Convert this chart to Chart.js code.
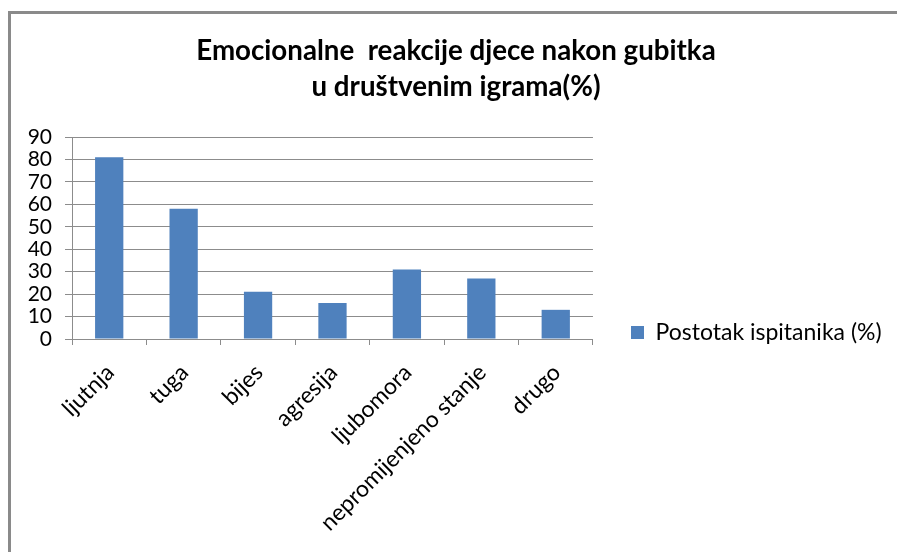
<!DOCTYPE html>
<html>
<head>
<meta charset="utf-8">
<script src="https://cdn.jsdelivr.net/npm/chart.js@4/dist/chart.umd.min.js"></script>
<style>
  html, body { margin: 0; background: #fff; overflow: hidden; }
  canvas { display: block; }
</style>
</head>
<body>
<canvas id="chart" width="897" height="552"></canvas>
<script>
const categories = ["ljutnja", "tuga", "bijes", "agresija", "ljubomora", "nepromijenjeno stanje", "drugo"];
const percentValues = [81, 58, 21, 16, 31, 27, 13];
const seriesName = "Postotak ispitanika (%)";
const titleLines = ["Emocionalne  reakcije djece nakon gubitka", "u društvenim igrama(%)"];

const fontFamily = "Lato, 'Liberation Sans', sans-serif";
const gridGray = "#8c8c8c";

// outer frame (left and top edge only, the rest is cut off in the original)
const frame = {
  id: "frame",
  beforeDraw(chart) {
    const c = chart.ctx;
    c.save();
    c.strokeStyle = "#8a8a8a";
    c.lineWidth = 3;
    c.beginPath();
    c.moveTo(9.5, chart.height);
    c.lineTo(9.5, 12.5);
    c.lineTo(chart.width, 12.5);
    c.stroke();
    c.restore();
  },
};

// legend sits left of where Chart.js wants it, and a bit lower; title a bit right
const moveBoxes = {
  id: "moveBoxes",
  afterLayout(chart) {
    const lg = chart.legend;
    lg.left = 627;
    lg.right = 895;
    lg.width = lg.right - lg.left;
    lg.top += 9;
    lg.bottom += 9;
    const tb = chart.titleBlock;
    tb.left += 11;
    tb.right += 11;
  },
};

var ctx = document.getElementById("chart");
new Chart(ctx, {
  type: "bar",
  data: {
    labels: categories,
    datasets: [
      {
        label: seriesName,
        data: percentValues,
        backgroundColor: "#4F81BD",
        borderWidth: 0,
        barPercentage: 0.38,
        categoryPercentage: 1,
      },
    ],
  },
  options: {
    responsive: false,
    animation: false,
    layout: { padding: { left: 0, right: 7, top: 0, bottom: 0 } },
    plugins: {
      tooltip: { enabled: false },
      title: {
        display: true,
        text: titleLines,
        color: "#000",
        font: { family: fontFamily, size: 27.7, weight: "bold", lineHeight: 1.3 },
        padding: { top: 33, bottom: 32 },
      },
      legend: {
        position: "right",
        align: "end",
        fullSize: false,
        labels: {
          boxWidth: 13,
          boxHeight: 13,
          padding: 4,
          color: "#000",
          font: { family: fontFamily, size: 23 },
        },
      },
    },
    scales: {
      x: {
        grid: {
          offset: true,
          drawOnChartArea: false,
          drawTicks: true,
          tickLength: 6,
          color: gridGray,
        },
        border: { color: gridGray },
        ticks: {
          autoSkip: false,
          minRotation: 45,
          maxRotation: 45,
          padding: 14,
          labelOffset: 1,
          color: "#000",
          font: { family: fontFamily, size: 23 },
        },
        afterFit: (scale) => { scale.height = 213; },
      },
      y: {
        min: 0,
        max: 90,
        ticks: {
          stepSize: 10,
          autoSkip: false,
          padding: 13,
          color: "#000",
          font: { family: fontFamily, size: 21 },
        },
        grid: { color: gridGray, tickLength: 7 },
        border: { color: gridGray },
        afterFit: (scale) => { scale.width = 72; },
      },
      spacer: {
        position: "right",
        display: true,
        grid: { display: false },
        border: { display: false },
        ticks: { display: false },
        afterFit: (scale) => { scale.width = 148.7; },
      },
    },
  },
  plugins: [frame, moveBoxes],
});
</script>
</body>
</html>
